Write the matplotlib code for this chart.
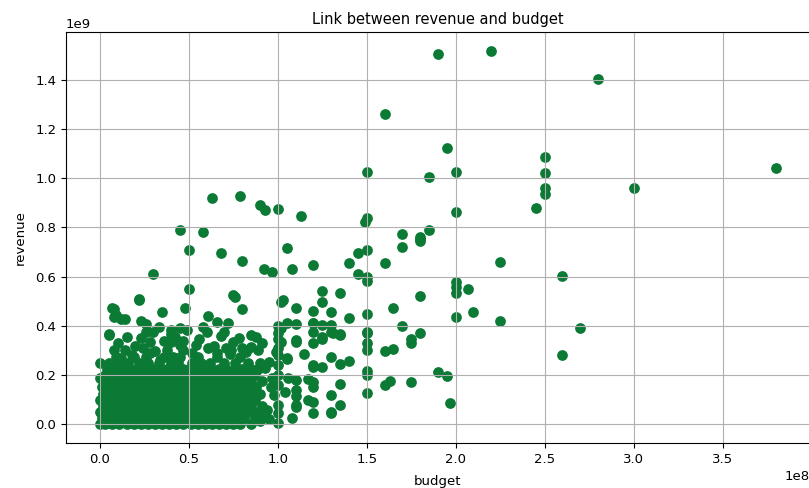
"""Scatter of movie revenue against budget."""
import matplotlib
matplotlib.use("Agg")
import matplotlib.pyplot as plt

DOT_COLOR = "#0b7a35"

# (budget, revenue) in millions of dollars, films well above the main mass
high_points = [
    (190, 1505), (220, 1517), (280, 1404), (195, 1122), (185, 1005), (200, 1026),
    (200, 862), (245, 878), (250, 1084), (250, 1021), (250, 959), (250, 935),
    (300, 960), (380, 1043), (160, 1261), (150, 1023), (185, 790), (180, 753),
    (170, 775), (170, 722), (63, 920), (79, 928), (90, 889), (93, 870),
    (100, 874), (45, 789), (58, 783), (50, 709), (68, 696), (80, 663),
    (92, 631), (97, 620), (30, 610), (113, 848), (150, 837), (149, 821),
    (105, 718), (108, 630), (120, 649), (140, 654), (145, 695), (150, 708),
    (145, 611), (150, 600), (150, 582), (160, 654), (180, 760), (180, 746),
    (200, 580), (200, 559), (200, 535), (207, 549), (225, 660), (260, 604),
    (180, 521), (125, 543), (135, 532),
]

# films between roughly 0.2e9 and 0.55e9 revenue
mid_points = [
    (50, 548), (75, 524), (76, 519), (22, 510), (22, 506), (103, 505), (102, 498),
    (110, 471), (120, 462), (125, 498), (130, 458), (140, 431), (150, 448),
    (165, 471), (200, 435), (210, 456), (225, 420), (270, 391), (170, 400),
    (175, 348), (175, 332), (180, 370), (80, 467), (48, 471), (35, 458),
    (8, 467), (7, 471), (9, 444), (8, 437), (14, 427), (12, 428), (23, 421),
    (26, 408), (30, 376), (5, 363), (61, 440), (66, 417), (72, 410),
    (105, 413), (110, 408), (120, 410), (125, 404), (130, 404), (120, 413),
    (150, 376), (150, 372), (150, 329), (150, 302), (160, 299), (165, 305),
    (110, 343), (110, 336), (120, 329), (125, 346), (125, 354), (131, 370),
    (135, 363), (135, 367), (120, 376), (130, 376), (115, 286), (105, 264),
    (105, 268), (120, 232), (120, 241), (125, 234), (130, 272), (135, 245),
    (140, 257), (150, 217), (150, 200), (190, 212), (195, 196), (260, 282),
    (5, 366), (15, 356), (23, 350), (28, 336), (40, 383), (40, 336),
    (45, 390), (45, 322), (8, 302), (18, 282), (12, 268), (28, 289),
    (34, 261), (38, 302), (41, 275), (49, 383), (60, 376), (70, 376),
    (85, 363), (88, 356), (102, 390), (102, 336), (75, 336), (54, 322),
    (61, 309), (71, 309), (80, 309), (85, 315), (99, 295), (95, 254),
    (0, 250), (0, 190),
    # clumps just above the core
    (14, 300), (24, 310), (31, 296), (36, 340), (42, 355), (47, 300),
    (52, 290), (56, 345), (64, 320), (66, 290), (73, 285), (78, 350),
    (82, 295), (89, 300), (91, 330), (20, 320), (10, 330), (33, 395),
    (40, 365), (58, 395), (68, 360), (74, 300), (47, 340), (26, 375),
]

# films below 0.2e9 revenue to the right of the dense core
low_points = [
    (160, 160), (163, 177), (175, 172), (197, 88), (110, 180), (117, 183),
    (120, 172), (135, 163), (130, 119), (150, 127), (110, 115), (117, 99),
    (110, 78), (120, 47), (130, 47), (135, 78), (108, 24), (100, 7),
    (90, 15), (110, 139), (120, 153), (120, 92), (110, 72), (130, 51),
    (95, 20), (94, 60), (96, 150), (97, 190), (93, 230), (98, 120),
    (100, 45), (100, 80), (100, 160), (100, 200), (100, 240), (100, 280),
    (100, 310), (100, 345), (100, 370), (100, 400), (104, 130), (106, 190),
]

# dense core: one list of budgets (millions) for each revenue level (millions)
core_rev_levels = [0, 25, 50, 75, 100, 125, 150, 175, 200, 225, 250, 275]
core_budgets = [
    [0, 3, 7, 11, 15, 19, 23, 27, 31, 35, 39, 43, 47, 51, 55, 59, 63, 67, 71, 75, 79, 85],
    [1, 5, 9, 13, 17, 21, 25, 29, 33, 37, 41, 45, 49, 53, 57, 61, 65, 69, 73, 77, 81, 87, 91],
    [0, 3, 7, 11, 15, 19, 23, 27, 31, 35, 39, 43, 47, 51, 55, 59, 63, 67, 71, 75, 79, 83, 89],
    [2, 5, 9, 13, 17, 21, 25, 29, 33, 37, 41, 45, 49, 53, 57, 61, 65, 69, 73, 77, 81, 85, 91],
    [0, 3, 7, 11, 15, 19, 23, 27, 31, 35, 39, 43, 47, 51, 55, 59, 63, 67, 71, 75, 79, 83, 87],
    [2, 5, 9, 13, 17, 21, 25, 29, 33, 37, 41, 45, 49, 53, 57, 61, 65, 69, 73, 77, 81, 85, 90],
    [1, 3, 7, 11, 15, 19, 23, 27, 31, 35, 39, 43, 47, 51, 55, 59, 63, 67, 71, 75, 79, 83, 88],
    [2, 5, 9, 13, 17, 21, 25, 29, 33, 37, 41, 45, 49, 53, 57, 61, 65, 69, 73, 77, 81, 85, 91],
    [3, 7, 11, 15, 19, 23, 27, 31, 35, 39, 43, 47, 51, 55, 59, 63, 67, 71, 75, 79, 83, 87],
    [4, 8, 12, 17, 21, 26, 30, 33, 38, 42, 47, 50, 55, 58, 63, 67, 71, 76, 80, 85, 89],
    [5, 10, 16, 22, 27, 33, 40, 44, 52, 57, 62, 70, 76, 83, 90],
    [9, 19, 26, 36, 45, 55, 66, 79],
]


def collect_points():
    """Join the point groups into budget and revenue lists in dollars"""
    budget = []
    revenue = []
    for group in (high_points, mid_points, low_points):
        for b, r in group:
            budget.append(b * 1e6)
            revenue.append(r * 1e6)
    for level, row in zip(core_rev_levels, core_budgets):
        for b in row:
            budget.append(b * 1e6)
            revenue.append(level * 1e6)
    return budget, revenue


def show_graph():
    """Draw the revenue/budget scatter and save it"""
    budget, revenue = collect_points()

    fig = plt.figure(figsize=(8.09, 4.88), dpi=100)
    ax = fig.add_axes([0.0816, 0.0922, 0.9194, 0.8418])
    ax.scatter(budget, revenue, s=45, color=DOT_COLOR)
    ax.grid(True)
    ax.set_title("Link between revenue and budget", fontsize=10.5)
    ax.set_xlabel("budget", fontsize=9.5, labelpad=7)
    ax.set_ylabel("revenue", fontsize=9.5, labelpad=6)
    ax.tick_params(labelsize=9.5)
    ax.xaxis.get_offset_text().set_fontsize(9.5)
    ax.yaxis.get_offset_text().set_fontsize(9.5)
    fig.savefig("out.png", dpi=100)


def main():
    """Used to build the chart"""
    show_graph()


if __name__ == "__main__":
    main()
